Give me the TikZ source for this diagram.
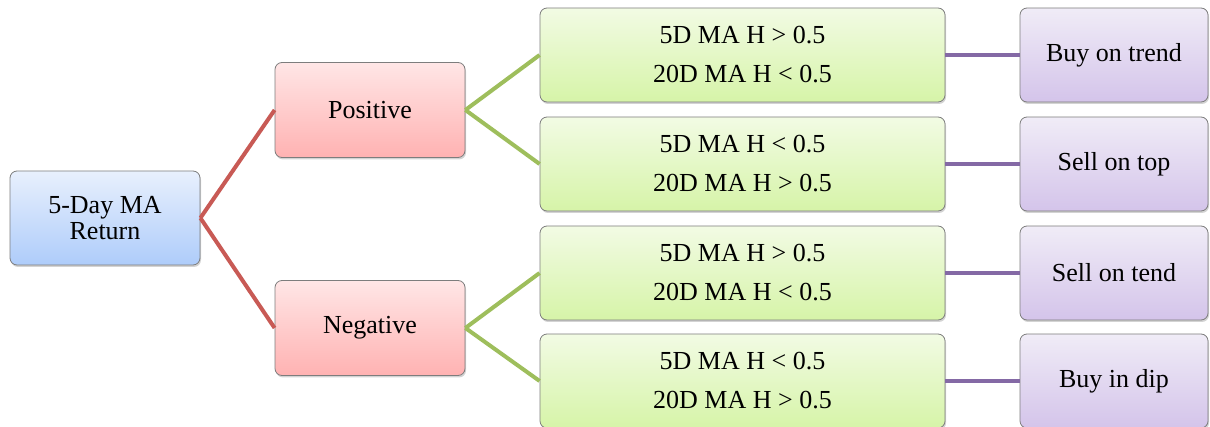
\documentclass[tikz,border=0pt]{standalone}
\usepackage{fontspec}
\setmainfont{Liberation Serif}
\usetikzlibrary{shadows}
\definecolor{redline}{RGB}{200,90,85}
\definecolor{greenline}{RGB}{158,190,92}
\definecolor{purpleline}{RGB}{132,105,165}
\definecolor{boxborder}{RGB}{125,125,125}
\begin{document}
\begin{tikzpicture}[x=1pt,y=-1pt,
  box/.style={draw=boxborder, line width=0.8pt, rounded corners=7pt, inner sep=0pt,
    font=\fontsize{26}{39}\selectfont, align=center,
    drop shadow={shadow xshift=1pt, shadow yshift=-2pt, opacity=0.35}},
  rootbox/.style={box, font=\fontsize{26}{26}\selectfont, minimum width=190pt, minimum height=94pt, top color={rgb,255:red,232;green,240;blue,253}, bottom color={rgb,255:red,174;green,204;blue,250}},
  posbox/.style={box, minimum width=190pt, minimum height=95pt, top color={rgb,255:red,255;green,230;blue,230}, bottom color={rgb,255:red,255;green,178;blue,178}},
  condbox/.style={box, minimum width=405pt, minimum height=94pt, top color={rgb,255:red,242;green,251;blue,228}, bottom color={rgb,255:red,214;green,244;blue,168}},
  actbox/.style={box, minimum width=188pt, minimum height=94pt, top color={rgb,255:red,240;green,236;blue,247}, bottom color={rgb,255:red,212;green,196;blue,234}},
  redconn/.style={draw=redline, line width=4pt},
  greenconn/.style={draw=greenline, line width=4pt},
  purpleconn/.style={draw=purpleline, line width=4pt}
]
\useasboundingbox (0,0) rectangle (1210,427);
\node[rootbox] (root) at (105,218) {5-Day MA\\Return};
\node[posbox] (pos) at (370,110) {Positive};
\node[posbox] (neg) at (370,328) {Negative};
\node[condbox] (c1) at (742.5,55) {5D MA H > 0.5\\20D MA H < 0.5};
\node[condbox] (c2) at (742.5,164) {5D MA H < 0.5\\20D MA H > 0.5};
\node[condbox] (c3) at (742.5,273) {5D MA H > 0.5\\20D MA H < 0.5};
\node[condbox] (c4) at (742.5,381) {5D MA H < 0.5\\20D MA H > 0.5};
\node[actbox] (a1) at (1114,55) {Buy on trend};
\node[actbox] (a2) at (1114,164) {Sell on top};
\node[actbox] (a3) at (1114,273) {Sell on tend};
\node[actbox] (a4) at (1114,381) {Buy in dip};
\path[redconn] (root.east) -- (pos.west);
\path[redconn] (root.east) -- (neg.west);
\path[greenconn] (pos.east) -- (c1.west);
\path[greenconn] (pos.east) -- (c2.west);
\path[greenconn] (neg.east) -- (c3.west);
\path[greenconn] (neg.east) -- (c4.west);
\path[purpleconn] (c1.east) -- (a1.west);
\path[purpleconn] (c2.east) -- (a2.west);
\path[purpleconn] (c3.east) -- (a3.west);
\path[purpleconn] (c4.east) -- (a4.west);
\end{tikzpicture}
\end{document}
